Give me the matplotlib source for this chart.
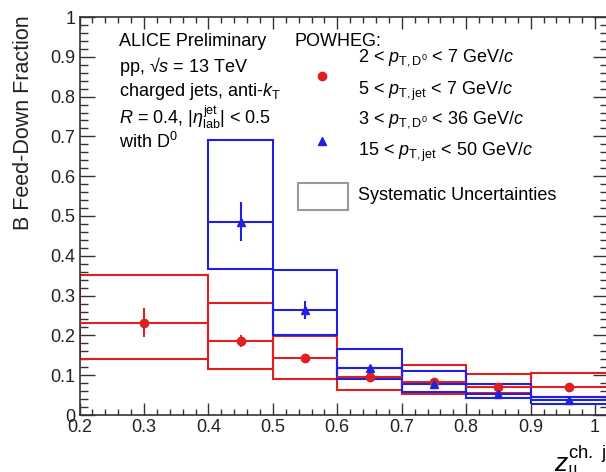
import matplotlib
matplotlib.use("Agg")
import matplotlib.pyplot as plt
from matplotlib.patches import Rectangle
from matplotlib.lines import Line2D
from matplotlib.ticker import MultipleLocator

plt.rcParams["font.family"] = ["Liberation Sans", "DejaVu Sans"]
plt.rcParams["mathtext.fontset"] = "custom"
plt.rcParams["mathtext.rm"] = "Liberation Sans"
plt.rcParams["mathtext.it"] = "Liberation Sans:italic"
plt.rcParams["mathtext.bf"] = "Liberation Sans:bold"

# bin edges in z_parallel
red_edges = [0.2, 0.4, 0.5, 0.6, 0.7, 0.8, 0.9, 1.02]
red_x = [0.3, 0.45, 0.55, 0.65, 0.75, 0.85, 0.96]
red_y = [0.232, 0.187, 0.143, 0.096, 0.082, 0.071, 0.071]
red_stat = [0.037, 0.015, 0.004, 0.004, 0.003, 0.003, 0.003]
red_sys_lo = [0.141, 0.115, 0.090, 0.062, 0.053, 0.055, 0.046]
red_sys_hi = [0.352, 0.282, 0.198, 0.117, 0.126, 0.103, 0.105]

blue_edges = [0.4, 0.5, 0.6, 0.7, 0.8, 0.9, 1.02]
blue_x = [0.45, 0.55, 0.65, 0.75, 0.85, 0.96]
blue_y = [0.486, 0.264, 0.117, 0.079, 0.053, 0.037]
blue_stat = [0.048, 0.022, 0.006, 0.004, 0.003, 0.002]
blue_sys_lo = [0.368, 0.200, 0.091, 0.059, 0.043, 0.027]
blue_sys_hi = [0.692, 0.364, 0.165, 0.111, 0.079, 0.046]

RED = "#e02020"
BLUE = "#2020e0"
W, H = 606, 472


def px(x, y):
    return x / W, 1 - y / H


fig = plt.figure(figsize=(W / 100, H / 100), dpi=100)
ax = fig.add_axes([79.5 / W, 1 - 415 / H, (608 - 79.5) / W, (415 - 17) / H])
ax.set_xlim(0.2, 1.02)
ax.set_ylim(0, 1)


def draw_series(edges, xs, ys, stat, lo, hi, color, marker, msize):
    for i in range(len(xs)):
        left, right = edges[i], edges[i + 1]
        ax.add_patch(Rectangle((left, lo[i]), right - left, hi[i] - lo[i],
                               fill=False, edgecolor=color, lw=1.5, zorder=2))
        ax.errorbar(xs[i], ys[i], xerr=[[xs[i] - left], [right - xs[i]]],
                    yerr=stat[i], fmt="none", ecolor=color, elinewidth=1.5,
                    capsize=0, zorder=3)
    ax.plot(xs, ys, ls="none", marker=marker, ms=msize, color=color,
            mec=color, zorder=4)


draw_series(red_edges, red_x, red_y, red_stat, red_sys_lo, red_sys_hi,
            RED, "o", 6)
draw_series(blue_edges, blue_x, blue_y, blue_stat, blue_sys_lo, blue_sys_hi,
            BLUE, "^", 6)

# axes styling, ROOT-like ticks on all sides
ax.xaxis.set_major_locator(MultipleLocator(0.1))
ax.xaxis.set_minor_locator(MultipleLocator(0.02))
ax.yaxis.set_major_locator(MultipleLocator(0.1))
ax.yaxis.set_minor_locator(MultipleLocator(0.02))
ax.xaxis.set_major_formatter(lambda v, p: f"{v:g}")
ax.yaxis.set_major_formatter(lambda v, p: f"{v:g}")
ax.tick_params(axis="x", which="major", direction="in", length=8.5, width=1,
               top=True, labelsize=13, pad=3, colors="#333333",
               labelcolor="#222222")
ax.tick_params(axis="x", which="minor", direction="in", length=4.3, width=1,
               top=True, colors="#333333")
ax.tick_params(axis="y", which="major", direction="in", length=11, width=1,
               right=True, labelsize=13, pad=3, colors="#333333",
               labelcolor="#222222")
ax.tick_params(axis="y", which="minor", direction="in", length=5.5, width=1,
               right=True, colors="#333333")
for s in ax.spines.values():
    s.set_linewidth(1.2)
    s.set_color("#333333")

x, y = px(24, 15)
fig.text(x, y, "B Feed-Down Fraction", rotation=90, ha="center", va="top",
         fontsize=15.5, color="#222222")
x, y = px(554, 472)
fig.text(x, y, r"$z_{\mathrm{||}}^{\mathrm{ch.\ jet}}$", ha="left",
         va="baseline", fontsize=19)

# ALICE labels
alice_lines = [
    (42, "ALICE Preliminary"),
    (67, r"pp, √$s$ = 13 TeV"),
    (91, r"charged jets, anti-$k_{\mathrm{T}}$"),
    (117, r"$R$ = 0.4, |$\eta^{\mathrm{jet}}_{\mathrm{lab}}$| < 0.5"),
    (142, r"with D$^{0}$"),
]
for yy, s in alice_lines:
    x, y = px(119, yy)
    fig.text(x, y, s, ha="left", va="center", fontsize=13)

# legend
x, y = px(295, 42)
fig.text(x, y, "POWHEG:", ha="left", va="center", fontsize=13)
legend_lines = [
    (58, r"2 < $p_{\mathrm{T,D^{0}}}$ < 7 GeV/$c$"),
    (91, r"5 < $p_{\mathrm{T,jet}}$ < 7 GeV/$c$"),
    (120, r"3 < $p_{\mathrm{T,D^{0}}}$ < 36 GeV/$c$"),
    (152, r"15 < $p_{\mathrm{T,jet}}$ < 50 GeV/$c$"),
]
for yy, s in legend_lines:
    x, y = px(358, yy)
    fig.text(x, y, s, ha="left", va="center", fontsize=13)

x, y = px(322, 76)
fig.add_artist(Line2D([x], [y], marker="o", ms=6, color=RED, ls="none"))
x, y = px(322, 141)
fig.add_artist(Line2D([x], [y], marker="^", ms=6, color=BLUE, ls="none"))
x0, y0 = px(298, 210)
x1, y1 = px(348, 183)
fig.add_artist(Rectangle((x0, y0), x1 - x0, y1 - y0, fill=False,
                         edgecolor="#999999", lw=1.5,
                         transform=fig.transFigure))
x, y = px(358, 195)
fig.text(x, y, "Systematic Uncertainties", ha="left", va="center",
         fontsize=13)

fig.savefig("out.png", dpi=100)
